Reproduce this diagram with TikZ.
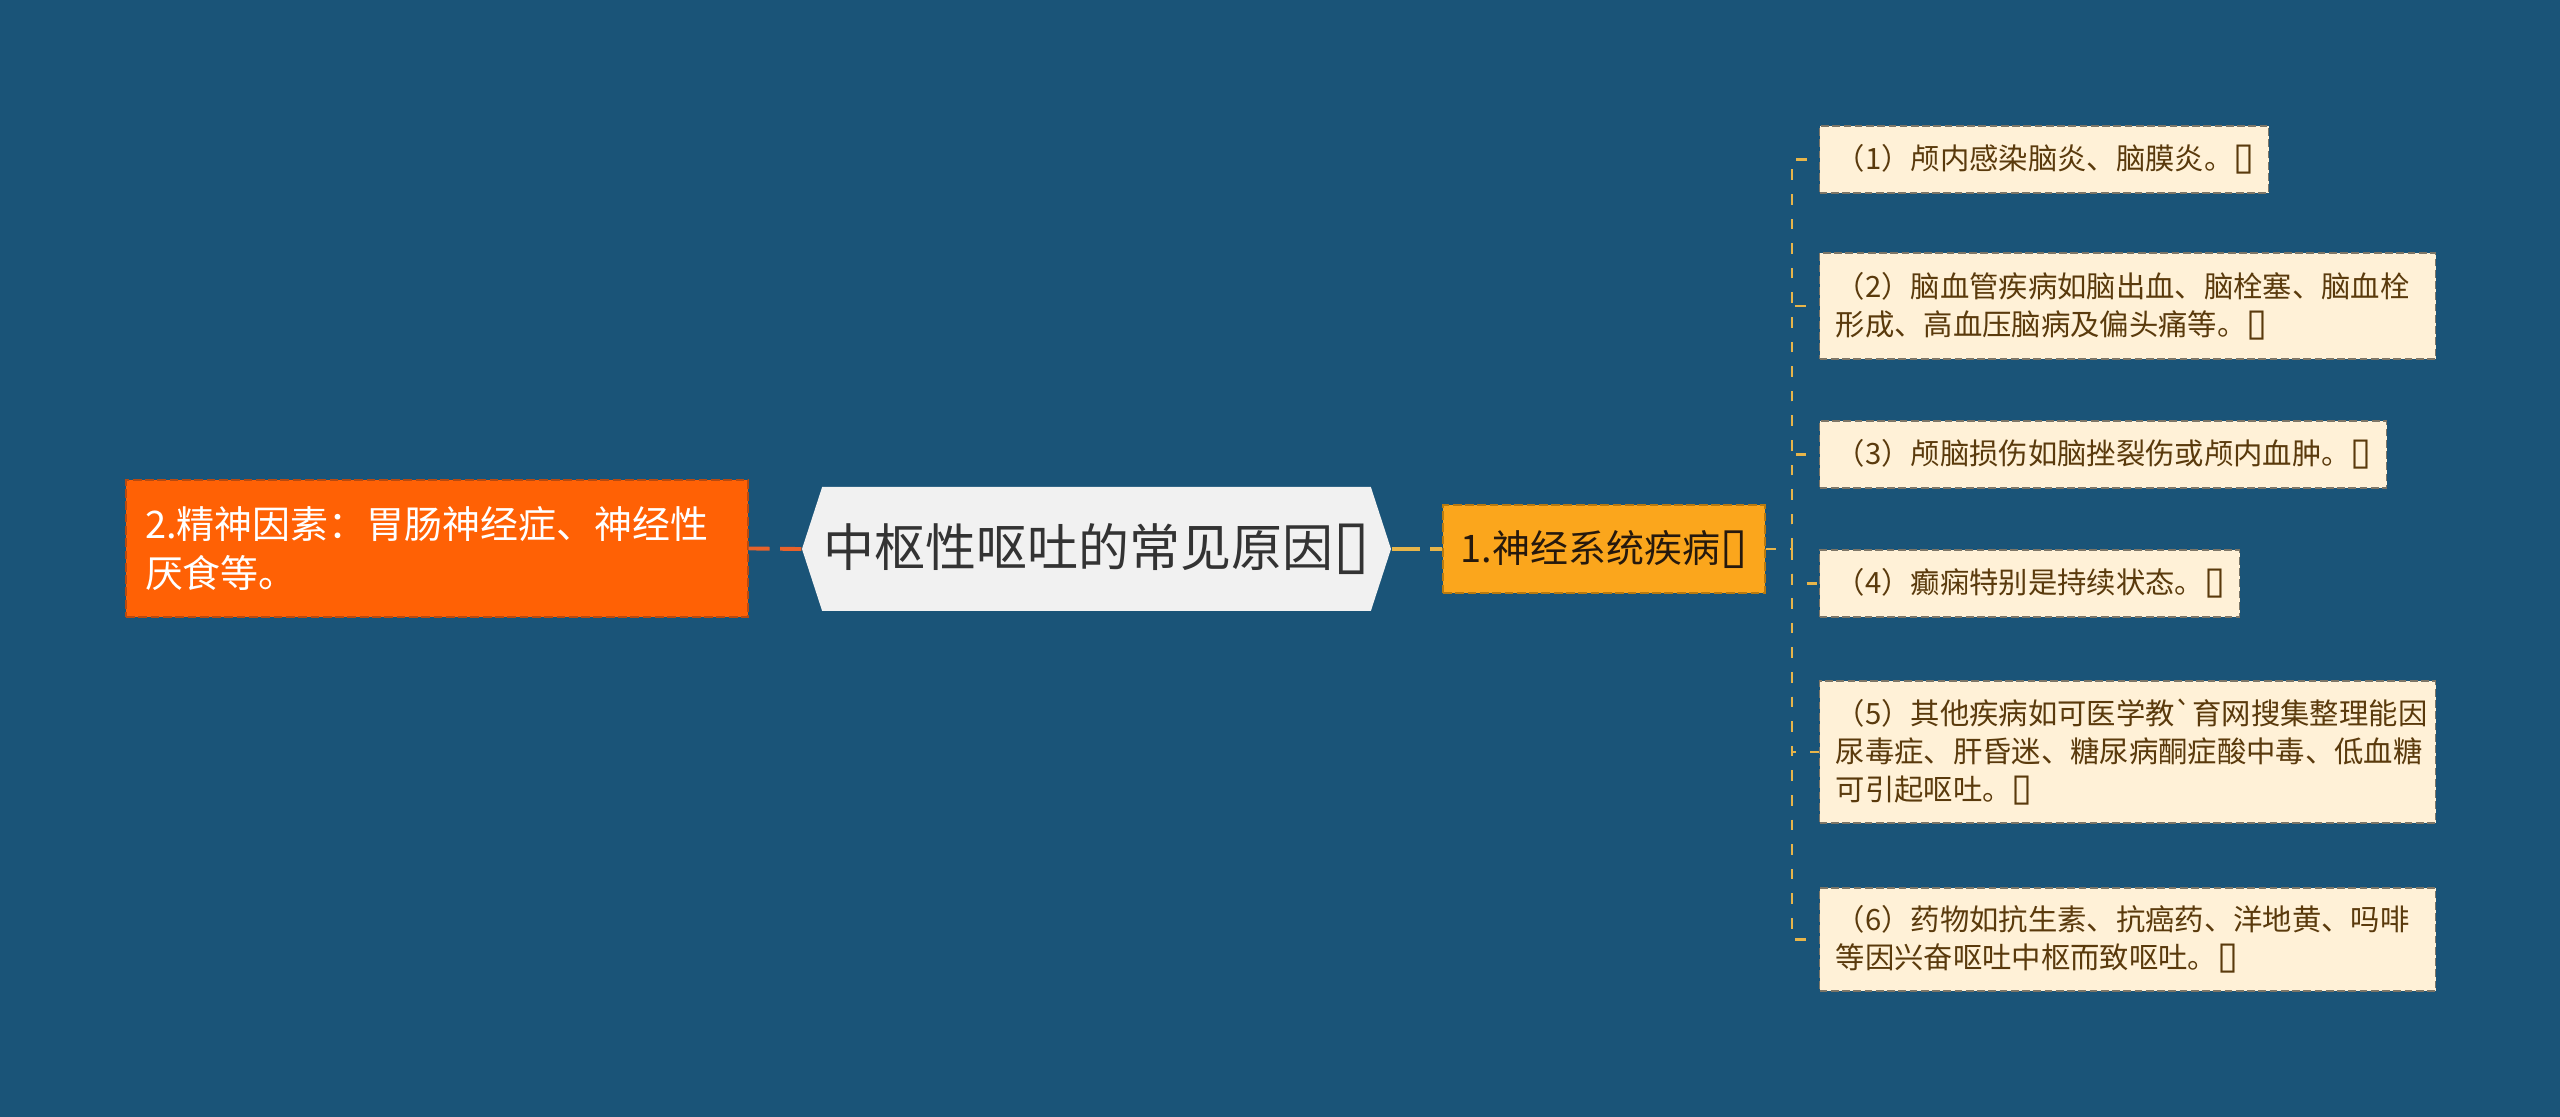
\documentclass[tikz,border=0pt]{standalone}
\usepackage{fontspec}
\setmainfont{Noto Sans CJK SC}
\newfontfamily\boxfont{DejaVu Sans}[Scale=1.3]
\newcommand{\tofu}{{\boxfont\bfseries ▯}}
\usetikzlibrary{shapes.symbols}
\definecolor{bgblue}{HTML}{1A5478}
\definecolor{rootfill}{HTML}{F1F1F1}
\definecolor{mentalfill}{HTML}{FF6105}
\definecolor{mentalline}{HTML}{B84A10}
\definecolor{nervefill}{HTML}{FBA61C}
\definecolor{nerveline}{HTML}{B87A10}
\definecolor{leaffill}{HTML}{FFF1D7}
\definecolor{leafline}{HTML}{7D7667}
\definecolor{leaftext}{HTML}{5A3A0C}
\definecolor{gold}{HTML}{E7B54A}
\definecolor{redline}{HTML}{E8622A}

\begin{document}
\begin{tikzpicture}[
    leaf/.style={draw=leafline, dash pattern=on 2.2pt off 1pt, fill=leaffill, text=leaftext,
        font=\fontsize{8.35}{10.9}\selectfont, align=left, inner xsep=0.16cm, inner ysep=0pt, anchor=west},
    branch/.style={gold, line width=0.6pt, dash pattern=on 3pt off 4pt},
    ]
    \fill[bgblue] (0,0) rectangle (25.6,11.17);
    \useasboundingbox (0,0) rectangle (25.6,11.17);

    \node[signal, signal to=west and east, signal pointer angle=144, fill=rootfill, text=black!80,
        minimum width=5.89cm, minimum height=1.24cm, inner sep=0pt,
        font=\fontsize{14.5}{17}\selectfont] (root) at (10.965,5.68) {中枢性呕吐的常见原因\tofu};
    \node[draw=mentalline, dash pattern=on 2.5pt off 1pt, fill=mentalfill, text=white, align=left,
        text width=5.84cm, minimum height=1.37cm, inner xsep=0.19cm, inner ysep=0pt,
        font=\fontsize{10.8}{14}\selectfont] (mental) at (4.37,5.685) {2.精神因素：胃肠神经症、神经性\\厌食等。};
    \node[draw=nerveline, dash pattern=on 2.5pt off 1pt, fill=nervefill, text=black!80!brown,
        minimum width=3.22cm, minimum height=0.88cm, inner sep=0pt,
        font=\fontsize{10.8}{13}\selectfont] (nerve) at (16.04,5.68) {1.神经系统疾病\tofu};

    \node[leaf, text width=4.17cm, minimum height=0.67cm] (c1) at (18.19,9.575) {（1）颅内感染脑炎、脑膜炎。\tofu};
    \node[leaf, text width=5.84cm, minimum height=1.06cm] (c2) at (18.19,8.11) {（2）脑血管疾病如脑出血、脑栓塞、脑血栓\\形成、高血压脑病及偏头痛等。\tofu};
    \node[leaf, text width=5.35cm, minimum height=0.67cm] (c3) at (18.19,6.625) {（3）颅脑损伤如脑挫裂伤或颅内血肿。\tofu};
    \node[leaf, text width=3.88cm, minimum height=0.67cm] (c4) at (18.19,5.335) {（4）癫痫特别是持续状态。\tofu};
    \node[leaf, text width=5.84cm, minimum height=1.42cm] (c5) at (18.19,3.65) {（5）其他疾病如可医学教\textasciigrave 育网搜集整理能因\\尿毒症、肝昏迷、糖尿病酮症酸中毒、低血糖\\可引起呕吐。\tofu};
    \node[leaf, text width=5.84cm, minimum height=1.03cm] (c6) at (18.19,1.775) {（6）药物如抗生素、抗癌药、洋地黄、吗啡\\等因兴奋呕吐中枢而致呕吐。\tofu};

    \draw[redline, line width=1.1pt, dash pattern=on 6pt off 3pt] (root.west) -- (mental.east);
    \draw[gold, line width=1.1pt, dash pattern=on 8pt off 3pt] (root.east) -- (nerve.west);
    \coordinate (fork) at (17.92,5.68);
    \draw[branch] (nerve.east) -- (fork);
    \foreach \c in {c1,c2,c3,c4,c5,c6}
        \draw[branch] (fork) |- (\c.west);
\end{tikzpicture}
\end{document}
